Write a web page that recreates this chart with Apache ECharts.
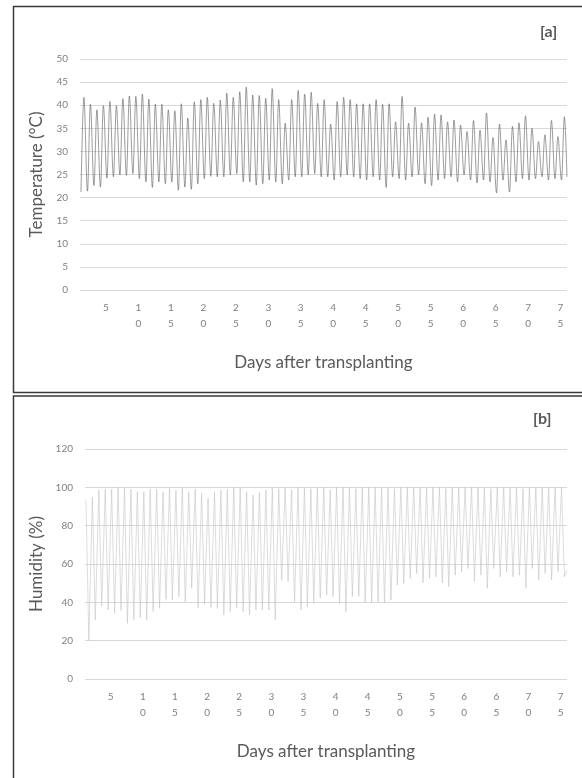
<!DOCTYPE html>
<html>
<head>
<meta charset="utf-8">
<script src="https://cdn.jsdelivr.net/npm/echarts@6/dist/echarts.min.js"></script>
<style>
  html, body { margin: 0; padding: 0; background: #fff; }
  #chart { width: 582px; height: 778px; }
</style>
</head>
<body>
<div id="chart"></div>
<script>
// Day labels on the shared x axis (days after transplanting)
const dayTicks = [5, 10, 15, 20, 25, 30, 35, 40, 45, 50, 55, 60, 65, 70, 75];

// Daily air temperature (°C), days 1–75: early-morning low and afternoon high
const tempMin = [21.2, 21.4, 22.6, 22.3, 24.2, 24.5, 24.9, 24.8, 25.2, 24.1,
                 23.4, 22.2, 23.4, 23.0, 23.4, 21.6, 22.3, 21.8, 23.0, 24.1,
                 24.6, 24.5, 24.5, 24.9, 25.2, 23.4, 23.4, 22.7, 23.0, 23.8,
                 23.4, 23.0, 23.8, 24.5, 24.5, 24.9, 25.2, 24.5, 24.5, 23.8,
                 24.5, 24.9, 24.5, 24.1, 23.8, 24.5, 23.8, 22.2, 24.5, 24.1,
                 23.8, 24.5, 24.9, 23.0, 22.6, 23.8, 24.1, 24.5, 23.4, 24.9,
                 23.8, 23.2, 23.8, 23.4, 21.0, 23.8, 21.2, 23.4, 24.1, 23.8,
                 24.1, 24.5, 23.8, 24.1, 23.8];
const tempMax = [41.7, 40.2, 39.0, 39.9, 40.8, 39.9, 41.4, 42.0, 41.9, 42.4,
                 41.3, 40.2, 40.2, 39.0, 38.8, 40.3, 37.2, 40.7, 41.2, 41.7,
                 40.4, 41.1, 42.6, 41.7, 42.9, 43.9, 42.2, 42.1, 41.5, 43.6,
                 41.2, 36.1, 41.2, 43.2, 42.4, 42.8, 40.4, 41.2, 35.9, 40.8,
                 41.7, 41.2, 40.3, 40.3, 40.3, 41.2, 40.2, 40.3, 36.4, 41.9,
                 36.1, 39.6, 36.2, 37.4, 38.1, 37.9, 36.4, 36.8, 35.7, 34.3,
                 36.7, 34.6, 38.3, 33.0, 35.9, 32.5, 35.4, 36.2, 37.7, 35.0,
                 32.1, 33.6, 36.7, 33.2, 37.5];
const tempLast = 24.5;   // closing reading at the end of day 75

// Daily relative humidity (%), days 1–75: night-time high and daytime low
const humMax = [93.7, 94.8, 98.6, 99.0, 99.0, 100, 100, 99.0, 97.7, 97.7,
                99.0, 99.0, 97.7, 100, 98.6, 100, 97.7, 99.0, 96.9, 94.3,
                97.7, 98.6, 99.0, 100, 100, 97.7, 96.0, 97.3, 98.6, 100,
                99.3, 100, 98.6, 100, 100, 99.3, 100, 100, 98.6, 100,
                100, 100, 99.3, 100, 100, 100, 100, 100, 99.3, 100,
                100, 100, 100, 100, 100, 100, 99.3, 100, 100, 100,
                100, 100, 100, 99.3, 100, 100, 100, 100, 99.3, 100,
                100, 100, 100, 100, 100];
const humMin = [20.0, 30.8, 38.0, 36.0, 34.3, 35.7, 29.0, 30.8, 32.0, 30.8,
                35.1, 36.9, 41.6, 41.2, 43.0, 40.3, 47.3, 36.9, 39.1, 37.4,
                36.9, 33.4, 35.1, 36.9, 35.1, 33.4, 36.0, 36.0, 36.0, 30.8,
                51.6, 50.7, 40.3, 36.0, 37.7, 39.5, 42.0, 43.8, 43.0, 39.5,
                35.1, 43.0, 43.0, 39.8, 39.8, 40.3, 39.8, 41.2, 49.0, 49.9,
                52.5, 55.0, 50.2, 52.5, 53.3, 50.2, 48.1, 54.2, 56.0, 57.7,
                50.7, 54.2, 47.3, 57.7, 53.3, 56.0, 53.3, 54.2, 47.3, 57.7,
                51.6, 55.0, 51.6, 56.0, 53.3];
const humLast = 57.0;

// Time of day (fraction of a day) at which the low / high readings fall
const EARLY = 0.15, AFTERNOON = 0.6;

function buildTrace(first, second, last) {
  const pts = [];
  for (let i = 0; i < first.length; i++) {
    const day = i + 1;
    pts.push([day + EARLY, first[i]]);
    pts.push([day + AFTERNOON, second[i]]);
  }
  pts.push([first.length + 1, last]);
  return pts;
}

const tempTrace = buildTrace(tempMin, tempMax, tempLast);
const humTrace = buildTrace(humMax, humMin, humLast);

const FONT = 'Lato, "Open Sans", sans-serif';
const gridColor = '#d9d9d9';
const tickColor = '#808080';
const titleColor = '#595959';

function xAxisFor(gridIndex) {
  return {
    type: 'value', gridIndex, min: 1, max: 76,
    axisLine: { show: false }, axisTick: { show: false }, splitLine: { show: false },
    axisLabel: {
      customValues: dayTicks,
      formatter: v => String(v).split('').join('\n'),
      color: tickColor, fontSize: 10, fontFamily: FONT, lineHeight: 16,
      margin: 10, verticalAlign: 'top'
    },
    name: 'Days after transplanting', nameLocation: 'middle', nameGap: 64,
    nameTextStyle: { color: titleColor, fontSize: 17, fontFamily: FONT }
  };
}

function yAxisFor(gridIndex, max, step, title, gap) {
  return {
    type: 'value', gridIndex, min: 0, max, interval: step,
    axisLine: { show: false }, axisTick: { show: false },
    splitLine: { lineStyle: { color: gridColor, width: 1 } },
    axisLabel: { color: tickColor, fontSize: 10, fontFamily: FONT, margin: 12 },
    name: title, nameLocation: 'middle', nameGap: gap,
    nameTextStyle: { color: titleColor, fontSize: 17, fontFamily: FONT }
  };
}

const chart = echarts.init(document.getElementById('chart'), null, { renderer: 'canvas' });
chart.setOption({
  animation: false,
  backgroundColor: '#fff',
  grid: [
    { left: 80, right: 15, top: 59, height: 231 },
    { left: 85, right: 15, top: 449, height: 230 }
  ],
  xAxis: [xAxisFor(0), xAxisFor(1)],
  yAxis: [
    yAxisFor(0, 50, 5, 'Temperature (°C)', 31),
    yAxisFor(1, 120, 20, 'Humidity (%)', 34)
  ],
  series: [
    {
      name: 'Temperature', type: 'line', xAxisIndex: 0, yAxisIndex: 0,
      data: tempTrace, showSymbol: false, smooth: 0.35, smoothMonotone: 'x',
      lineStyle: { color: '#5a5a5a', width: 0.6 }
    },
    {
      name: 'Humidity', type: 'line', xAxisIndex: 1, yAxisIndex: 1,
      data: humTrace, showSymbol: false,
      lineStyle: { color: '#c4c4c4', width: 0.6 }
    }
  ],
  graphic: [
    { type: 'rect', shape: { x: 13.5, y: 6.5, width: 600, height: 386 },
      style: { fill: 'none', stroke: '#3a3a3a', lineWidth: 1.5 }, silent: true },
    { type: 'rect', shape: { x: 13.5, y: 396, width: 600, height: 400 },
      style: { fill: 'none', stroke: '#3a3a3a', lineWidth: 1.5 }, silent: true },
    { type: 'text', left: 540, top: 24,
      style: { text: '[a]', fill: titleColor, font: 'bold 16px ' + FONT } },
    { type: 'text', left: 533, top: 411,
      style: { text: '[b]', fill: titleColor, font: 'bold 16px ' + FONT } }
  ]
});
</script>
</body>
</html>
